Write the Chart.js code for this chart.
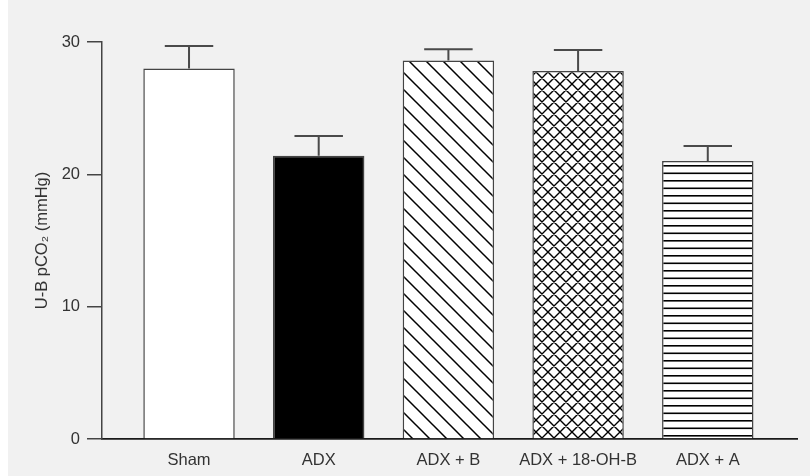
<!DOCTYPE html>
<html><head><meta charset="utf-8">
<script src="https://cdn.jsdelivr.net/npm/chart.js@4.4.1/dist/chart.umd.min.js"></script>
<style>
html,body{margin:0;padding:0;background:#fff;}
#wrap{position:absolute;left:8px;top:0;width:802px;height:476px;background:#f1f1f1;}
</style></head><body>
<div id="wrap"><canvas id="c" width="802" height="476"></canvas></div>
<script>
// ---- data ----
const categories = ['Sham', 'ADX', 'ADX + B', 'ADX + 18-OH-B', 'ADX + A'];
const means = [28.0, 21.4, 28.6, 27.8, 21.0];
const errors = [1.7, 1.5, 0.85, 1.6, 1.15];
const yTicks = [0, 10, 20, 30];
const yTitle = 'U-B pCO\u2082 (mmHg)';

// ---- fill patterns ----
function makePattern(w, h, draw) {
  const c = document.createElement('canvas');
  c.width = w; c.height = h;
  const g = c.getContext('2d');
  g.fillStyle = '#fff'; g.fillRect(0, 0, w, h);
  g.strokeStyle = '#000'; g.fillStyle = '#000';
  draw(g, w, h);
  return document.getElementById('c').getContext('2d').createPattern(c, 'repeat');
}
const diagPattern = makePattern(17, 17, (g, s) => {
  g.lineWidth = 1.5;
  g.beginPath();
  g.moveTo(-2, -2); g.lineTo(s + 2, s + 2);
  g.moveTo(-2, s - 2); g.lineTo(2, s + 2);
  g.moveTo(s - 2, -2); g.lineTo(s + 2, 2);
  g.stroke();
});
const crossPattern = makePattern(12, 12, (g, s) => {
  g.lineWidth = 1.4;
  g.beginPath();
  g.moveTo(-2, -2); g.lineTo(s + 2, s + 2);
  g.moveTo(-2, s - 2); g.lineTo(2, s + 2);
  g.moveTo(s - 2, -2); g.lineTo(s + 2, 2);
  g.moveTo(-2, s + 2); g.lineTo(s + 2, -2);
  g.moveTo(-2, 2); g.lineTo(2, -2);
  g.moveTo(s - 2, s + 2); g.lineTo(s + 2, s - 2);
  g.stroke();
});
const horizPattern = makePattern(8, 15, (g, w) => {
  g.fillRect(0, 0, w, 1.6);
  g.fillRect(0, 7.5, w, 1.6);
});
const fills = ['#ffffff', '#000000', diagPattern, crossPattern, horizPattern];

const FONT = { family: '"Liberation Sans", Arial, sans-serif', size: 16.5 };
const TEXT = '#333333';

const errorBars = {
  id: 'errorBars',
  afterDatasetsDraw(chart) {
    const meta = chart.getDatasetMeta(0);
    const xs = chart.scales.x, ys = chart.scales.y;
    const ctx = chart.ctx;
    ctx.save();
    ctx.strokeStyle = '#4a4a4a';
    ctx.lineWidth = 2;
    means.forEach((m, i) => {
      const x = xs.getPixelForValue(i);
      const yb = ys.getPixelForValue(m);
      const yt = ys.getPixelForValue(m + errors[i]);
      const half = meta.data[i].width * 0.265;
      ctx.beginPath();
      ctx.moveTo(x, yb); ctx.lineTo(x, yt);
      ctx.moveTo(x - half, yt); ctx.lineTo(x + half, yt);
      ctx.stroke();
    });
    ctx.restore();
  }
};

new Chart(document.getElementById('c'), {
  type: 'bar',
  data: {
    datasets: [{
      data: means.map((v, i) => ({ x: i, y: v })),
      backgroundColor: fills,
      borderColor: '#444',
      borderWidth: 1.5,
      categoryPercentage: 1,
      barPercentage: 0.705
    }]
  },
  options: {
    responsive: false,
    animation: false,
    layout: { padding: { left: 0, right: 13, top: 42, bottom: 0 } },
    plugins: { legend: { display: false }, tooltip: { enabled: false } },
    scales: {
      x: {
        type: 'linear',
        offset: false,
        min: -0.671,
        max: 4.688,
        grid: { display: false, drawTicks: false, offset: false },
        border: { display: true, color: '#1a1a1a', width: 1.8 },
        afterBuildTicks: s => { s.ticks = categories.map((_, i) => ({ value: i })); },
        afterFit: s => { s.height = 37; },
        ticks: {
          autoSkip: false, maxRotation: 0, padding: 12,
          color: TEXT, font: FONT,
          callback: v => categories[v]
        }
      },
      y: {
        min: 0, max: 30,
        grid: { drawOnChartArea: false, drawTicks: true, tickLength: 15, color: '#444', lineWidth: 1.5 },
        border: { display: true, color: '#444', width: 1.5 },
        afterBuildTicks: s => { s.ticks = yTicks.map(v => ({ value: v })); },
        afterFit: s => { s.width = 94; },
        ticks: { padding: 7, color: TEXT, font: FONT },
        title: { display: true, text: yTitle, color: TEXT, font: FONT, padding: { top: 25, bottom: 0 } }
      }
    }
  },
  plugins: [errorBars]
});
</script>
</body></html>
